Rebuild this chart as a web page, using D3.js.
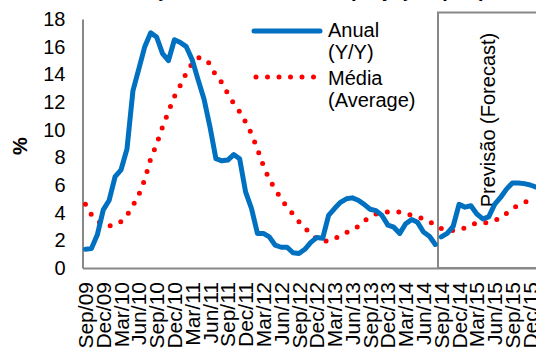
<!DOCTYPE html>
<html>
<head>
<meta charset="utf-8">
<script src="https://cdn.jsdelivr.net/npm/d3@7/dist/d3.min.js"></script>
<style>
  html, body { margin: 0; padding: 0; background: #fff; }
  svg { display: block; font-family: "Liberation Sans", Arial, sans-serif; }
</style>
</head>
<body>
<svg id="chart" width="536" height="350"></svg>
<script>
// Monthly categories, Sep/09 onward
const months = [
  "Sep/09","Oct/09","Nov/09","Dec/09",
  "Jan/10","Feb/10","Mar/10","Apr/10","May/10","Jun/10","Jul/10","Aug/10","Sep/10","Oct/10","Nov/10","Dec/10",
  "Jan/11","Feb/11","Mar/11","Apr/11","May/11","Jun/11","Jul/11","Aug/11","Sep/11","Oct/11","Nov/11","Dec/11",
  "Jan/12","Feb/12","Mar/12","Apr/12","May/12","Jun/12","Jul/12","Aug/12","Sep/12","Oct/12","Nov/12","Dec/12",
  "Jan/13","Feb/13","Mar/13","Apr/13","May/13","Jun/13","Jul/13","Aug/13","Sep/13","Oct/13","Nov/13","Dec/13",
  "Jan/14","Feb/14","Mar/14","Apr/14","May/14","Jun/14","Jul/14","Aug/14","Sep/14","Oct/14","Nov/14","Dec/14",
  "Jan/15","Feb/15","Mar/15","Apr/15","May/15","Jun/15","Jul/15","Aug/15","Sep/15","Oct/15","Nov/15","Dec/15",
  "Jan/16"
];

// Year-on-year rate, observed (Sep/09 - Aug/14)
const anual = [
  1.35, 1.4, 2.4, 4.2, 4.9, 6.6, 7.1, 8.6, 12.8, 14.4,
  16.0, 17.0, 16.7, 15.5, 15.0, 16.5, 16.3, 16.0, 15.05, 13.6,
  12.2, 10.2, 7.9, 7.75, 7.8, 8.2, 7.9, 5.5, 4.3, 2.5,
  2.5, 2.25, 1.65, 1.5, 1.5, 1.1, 1.05, 1.35, 1.85, 2.2,
  2.15, 3.8, 4.3, 4.75, 5.0, 5.07, 4.9, 4.6, 4.25, 4.15,
  3.8, 3.1, 2.95, 2.5, 3.2, 3.5, 3.3, 2.6, 2.3, 1.7
];

// Year-on-year rate, forecast (Sep/14 onward)
const previsao = [
  2.25, 2.5, 3.0, 4.6, 4.4, 4.5, 3.9, 3.55, 3.7, 4.6,
  5.1, 5.7, 6.15, 6.15, 6.1, 6.0, 5.85
];

// Average rate over the whole period
const media = [
  4.6, 3.85, 3.4, 3.15, 3.05, 3.1, 3.35, 3.8, 4.5, 5.3,
  6.4, 7.9, 8.95, 10.2, 11.3, 12.4, 13.2, 14.1, 14.8, 15.2,
  15.15, 14.75, 13.9, 13.4, 12.6, 11.9, 11.3, 10.55, 9.7, 8.6,
  7.4, 6.4, 5.7, 5.0, 4.4, 3.9, 3.35, 2.9, 2.45, 2.1,
  1.95, 1.95, 2.1, 2.35, 2.55, 2.8, 3.0, 3.4, 3.7, 3.9,
  4.0, 4.05, 4.05, 4.05, 3.95, 3.8, 3.7, 3.55, 3.35, 3.1,
  2.85, 2.75, 2.7, 2.8, 2.9, 3.1, 3.25, 3.25, 3.3, 3.45,
  3.6, 3.95, 4.3, 4.55, 4.75, 4.9, 5.05
];

const yTicks = [0, 2, 4, 6, 8, 10, 12, 14, 16, 18];
const legendLabels = [["Anual", "(Y/Y)"], ["Média", "(Average)"]];
const forecastLabel = "Previsão (Forecast)";
const titleText = "Inflação ao consumidor: projeção (Y/Y)";
const yTitle = "%";

const svg = d3.select("#chart");
const axisGrey = "#888888";
const blue = "#0070C0";
const red = "#FF0000";
const fontSize = 20;

const plot = { left: 82.5, top: 19, bottom: 268 };
const band = 5.93;

const x = d3.scaleBand()
  .domain(months)
  .range([plot.left, plot.left + band * months.length])
  .padding(0);
const xc = m => x(m) + x.bandwidth() / 2;

const y = d3.scaleLinear().domain([0, 18]).range([plot.bottom, plot.top]);

// Title (runs off the top edge)
svg.append("text")
  .attr("x", 300).attr("y", -3)
  .attr("text-anchor", "middle")
  .attr("font-size", fontSize).attr("font-weight", "bold")
  .text(titleText);

// Y axis
const yAxis = svg.append("g")
  .attr("transform", `translate(${plot.left},0)`)
  .call(d3.axisLeft(y).tickValues(yTicks).tickSize(0).tickPadding(17).tickSizeOuter(0));
yAxis.select(".domain").attr("stroke", axisGrey).attr("stroke-width", 2);
yAxis.selectAll("text")
  .attr("font-size", fontSize)
  .attr("font-family", "Liberation Sans, Arial, sans-serif")
  .attr("fill", "#000");

// Y axis title
svg.append("text")
  .attr("transform", "translate(27,146) rotate(-90)")
  .attr("text-anchor", "middle")
  .attr("font-size", fontSize).attr("font-weight", "bold")
  .text(yTitle);

// X axis: labels every third month
const xAxis = svg.append("g")
  .attr("transform", `translate(0,${plot.bottom})`)
  .call(d3.axisBottom(x)
    .tickValues(months.filter((m, i) => i % 3 === 0))
    .tickSize(0).tickSizeOuter(0));
xAxis.select(".domain").attr("stroke", axisGrey).attr("stroke-width", 2);
xAxis.selectAll("text")
  .attr("font-size", 21)
  .attr("font-family", "Liberation Sans, Arial, sans-serif")
  .attr("fill", "#000")
  .attr("transform", "rotate(-90)")
  .attr("text-anchor", "end")
  .attr("x", -14).attr("y", 0)
  .attr("dy", "0.36em");

// Forecast region box
svg.append("rect")
  .attr("x", 438).attr("y", 12.5)
  .attr("width", 200).attr("height", plot.bottom - 12.5)
  .attr("fill", "none")
  .attr("stroke", axisGrey).attr("stroke-width", 2);

svg.append("text")
  .attr("transform", "translate(495,120) rotate(-90)")
  .attr("text-anchor", "middle")
  .attr("font-size", fontSize)
  .text(forecastLabel);

const line = d3.line().x(d => xc(d[0])).y(d => y(d[1]));

// Average series (dotted)
svg.append("path")
  .datum(media.map((v, i) => [months[i], v]))
  .attr("d", line)
  .attr("fill", "none")
  .attr("stroke", red).attr("stroke-width", 5)
  .attr("stroke-linecap", "round")
  .attr("stroke-dasharray", "0 11.5");

// Year-on-year series: observed and forecast
svg.append("path")
  .datum(anual.map((v, i) => [months[i], v]))
  .attr("d", line)
  .attr("fill", "none")
  .attr("stroke", blue).attr("stroke-width", 5)
  .attr("stroke-linejoin", "round").attr("stroke-linecap", "round");

svg.append("path")
  .datum(previsao.map((v, i) => [months[anual.length + i], v]))
  .attr("d", line)
  .attr("fill", "none")
  .attr("stroke", blue).attr("stroke-width", 5)
  .attr("stroke-linejoin", "round").attr("stroke-linecap", "round");

// Legend
const legend = svg.append("g");
legend.append("line")
  .attr("x1", 254).attr("x2", 320).attr("y1", 31).attr("y2", 31)
  .attr("stroke", blue).attr("stroke-width", 5).attr("stroke-linecap", "round");
legend.append("line")
  .attr("x1", 256).attr("x2", 322).attr("y1", 77).attr("y2", 77)
  .attr("stroke", red).attr("stroke-width", 5)
  .attr("stroke-linecap", "round").attr("stroke-dasharray", "0 11.5");
legendLabels.forEach((lines, k) => {
  lines.forEach((t, j) => {
    legend.append("text")
      .attr("x", 328).attr("y", 37 + k * 48 + j * 22)
      .attr("font-size", fontSize)
      .text(t);
  });
});
</script>
</body>
</html>
